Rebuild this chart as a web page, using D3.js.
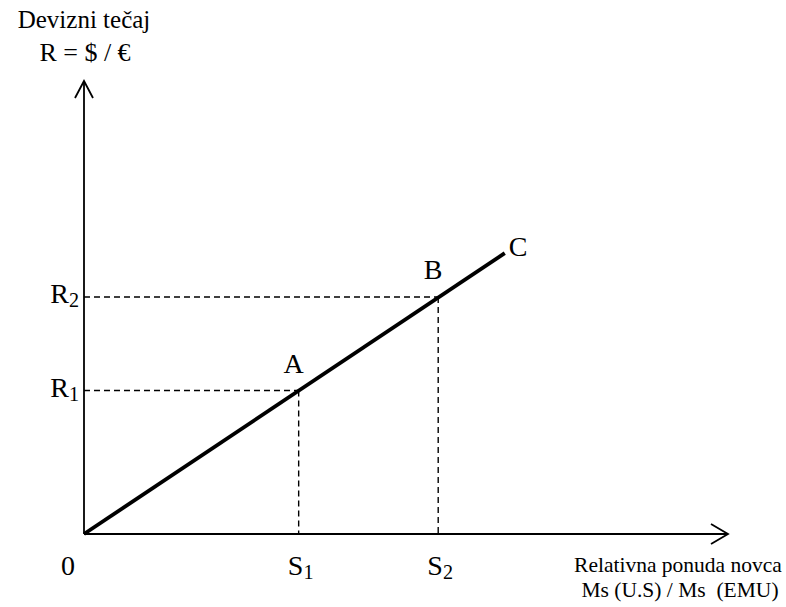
<!DOCTYPE html>
<html>
<head>
<meta charset="utf-8">
<script src="https://cdn.jsdelivr.net/npm/d3@7"></script>
<style>
  html, body { margin: 0; padding: 0; background: #fff; }
  svg { display: block; }
  text { font-family: "Liberation Serif", "Times New Roman", serif; fill: #000; }
</style>
</head>
<body>
<svg id="chart" width="786" height="607"></svg>
<script>
// ---- data ----
const xDomain = [0, 6];
const yDomain = [0, 6];
const lineStart = { s: 0, r: 0 };
const lineEnd = { label: "C", s: 3.92, r: 3.72 };
const pointLabels = ["A", "B"];
const pointS = [2.0, 3.3];
const pointR = [1.9, 3.14];
const sTickLabels = [["S", "1"], ["S", "2"]];
const rTickLabels = [["R", "1"], ["R", "2"]];
const originLabel = "0";
const yTitle = ["Devizni tečaj", "R = $ / €"];
const xTitle = ["Relativna ponuda novca", "Ms (U.S) / Ms\u00a0 (EMU)"];

// ---- drawing ----
const svg = d3.select("#chart");
const x = d3.scaleLinear().domain(xDomain).range([84, 728]);
const y = d3.scaleLinear().domain(yDomain).range([534, 81]);

const x0 = x(0), y0 = y(0);
const xMax = x(xDomain[1]), yMax = y(yDomain[1]);

// axes
svg.append("line").attr("x1", x0).attr("y1", y0).attr("x2", x0).attr("y2", yMax)
  .attr("stroke", "#000").attr("stroke-width", 1.8);
svg.append("line").attr("x1", x0).attr("y1", y0).attr("x2", xMax).attr("y2", y0)
  .attr("stroke", "#000").attr("stroke-width", 1.8);
// arrowheads (open chevrons)
svg.append("path")
  .attr("d", `M${x0 - 9},${yMax + 17} L${x0},${yMax} L${x0 + 9},${yMax + 17}`)
  .attr("fill", "none").attr("stroke", "#000").attr("stroke-width", 1.8);
svg.append("path")
  .attr("d", `M${xMax - 17},${y0 - 10} L${xMax},${y0} L${xMax - 17},${y0 + 10}`)
  .attr("fill", "none").attr("stroke", "#000").attr("stroke-width", 1.8);

// dashed guides
const pts = pointLabels.map((l, i) => ({ label: l, s: pointS[i], r: pointR[i] }));
pts.forEach(p => {
  svg.append("line").attr("x1", x0).attr("y1", y(p.r)).attr("x2", x(p.s)).attr("y2", y(p.r))
    .attr("stroke", "#000").attr("stroke-width", 1.4).attr("stroke-dasharray", "6,4");
  svg.append("line").attr("x1", x(p.s)).attr("y1", y(p.r)).attr("x2", x(p.s)).attr("y2", y0)
    .attr("stroke", "#000").attr("stroke-width", 1.4).attr("stroke-dasharray", "6,4");
});

// main line
const lineGen = d3.line().x(d => x(d.s)).y(d => y(d.r));
svg.append("path").datum([lineStart, lineEnd]).attr("d", lineGen)
  .attr("fill", "none").attr("stroke", "#000").attr("stroke-width", 3.8);

// point labels
pts.forEach(p => {
  svg.append("text").attr("x", x(p.s) - 5).attr("y", y(p.r) - 18)
    .attr("text-anchor", "middle").attr("font-size", 28).text(p.label);
});
svg.append("text").attr("x", x(lineEnd.s) + 4).attr("y", y(lineEnd.r) + 3)
  .attr("text-anchor", "start").attr("font-size", 28).text(lineEnd.label);

// subscript label helper
function subLabel(g, parts, size) {
  g.append("tspan").text(parts[0]).attr("font-size", size);
  g.append("tspan").text(parts[1]).attr("font-size", size * 0.72).attr("dy", 4);
}

// R ticks
rTickLabels.forEach((t, i) => {
  const g = svg.append("text").attr("x", x0 - 5).attr("y", y(pointR[i]) + 6)
    .attr("text-anchor", "end");
  subLabel(g, t, 28);
});
// S ticks
sTickLabels.forEach((t, i) => {
  const g = svg.append("text").attr("x", x(pointS[i]) + 2).attr("y", 575)
    .attr("text-anchor", "middle");
  subLabel(g, t, 28);
});
// origin
svg.append("text").attr("x", 68).attr("y", 575).attr("text-anchor", "middle")
  .attr("font-size", 28).text(originLabel);

// axis titles
svg.append("text").attr("x", 84).attr("y", 28).attr("text-anchor", "middle")
  .attr("font-size", 25).text(yTitle[0]);
svg.append("text").attr("x", 85).attr("y", 61).attr("text-anchor", "middle")
  .attr("font-size", 26).text(yTitle[1]);
svg.append("text").attr("x", 678).attr("y", 572).attr("text-anchor", "middle")
  .attr("font-size", 21.5).text(xTitle[0]);
svg.append("text").attr("x", 680).attr("y", 597).attr("text-anchor", "middle")
  .attr("font-size", 21.5).text(xTitle[1]);
</script>
</body>
</html>
